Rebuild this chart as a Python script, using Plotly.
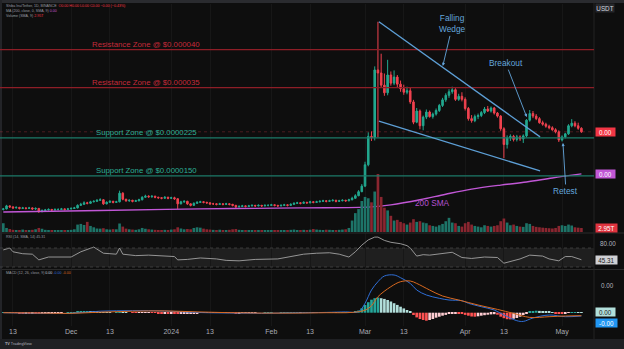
import numpy as np
import pandas as pd
import plotly.graph_objects as go

# ---------------- DATA (prices in micro-USDT, volume in trillions) ----------------
dates = pd.date_range('2023-11-10', periods=180, freq='D')

closes = [7.9, 8.5, 8.3, 8.1, 8.2, 8.0, 8.1, 8.0, 8.1, 7.9,
          8.0, 7.4, 7.6, 7.7, 7.8, 7.7, 7.8, 7.8, 7.9, 7.8,
          7.9, 8.0, 8.1, 8.6, 8.8, 9.1, 9.0, 9.3, 9.4, 9.6,
          9.7, 8.9, 9.2, 9.4, 9.2, 9.3, 11.0, 9.8, 9.5, 9.6,
          9.4, 9.5, 9.7, 10.2, 10.4, 10.3, 10.4, 10.2, 10.1, 10.0,
          10.2, 10.0, 10.1, 9.9, 8.9, 9.3, 9.4, 8.9, 8.6, 9.0,
          9.2, 9.3, 9.2, 9.1, 8.9, 8.9, 8.8, 8.9, 8.8, 8.9,
          8.8, 8.6, 8.3, 8.4, 8.5, 8.4, 8.5, 8.6, 8.5, 8.6,
          8.5, 8.6, 8.6, 8.7, 8.6, 8.5, 8.6, 8.7, 8.6, 8.8,
          9.0, 9.1, 9.0, 9.2, 9.1, 9.3, 9.2, 9.3, 9.4, 9.5,
          9.4, 9.5, 9.6, 9.4, 9.5, 9.6, 9.5, 9.7, 10.0, 10.5,
          11.3, 12.4, 16.6, 22.2, 22.0,
          35.3, 34.7, 32.3, 30.8, 34.3, 32.7, 33.9, 32.5, 31.6, 30.9,
          31.2, 29.0, 25.0, 27.2, 24.3, 26.0, 27.0, 26.1, 26.6, 27.3,
          28.3, 29.4, 30.3, 31.0, 31.4, 29.5, 30.1, 29.5, 27.7, 25.7,
          25.3, 26.1, 26.3, 26.9, 27.6, 27.2, 27.8, 26.8, 26.2, 23.7,
          20.6, 21.9, 22.2, 21.6, 22.1, 21.7, 22.3, 25.4, 26.7, 26.2,
          25.7, 24.9, 24.6, 24.2, 23.9, 23.5, 23.1, 21.5, 22.1, 22.7,
          24.3, 24.8, 24.3, 23.8, 23.1]

highs = [8.1, 8.7, 8.6, 8.4, 8.4, 8.3, 8.3, 8.2, 8.3, 8.2,
         8.2, 8.1, 7.8, 7.9, 8.0, 7.9, 8.0, 8.0, 8.1, 8.0,
         8.1, 8.2, 8.3, 8.8, 9.1, 9.4, 9.3, 9.5, 9.6, 9.8,
         10.0, 9.8, 9.4, 9.6, 9.5, 9.5, 11.5, 11.2, 9.9, 9.8,
         9.7, 9.7, 9.9, 10.4, 10.7, 10.6, 10.6, 10.5, 10.3, 10.2,
         10.4, 10.3, 10.3, 10.3, 10.0, 9.5, 9.6, 9.5, 9.0, 9.2,
         9.4, 9.5, 9.4, 9.3, 9.2, 9.1, 9.0, 9.1, 9.0, 9.1,
         9.0, 8.9, 8.7, 8.6, 8.7, 8.6, 8.7, 8.8, 8.7, 8.8,
         8.7, 8.8, 8.8, 8.9, 8.8, 8.7, 8.8, 8.9, 8.8, 9.0,
         9.2, 9.3, 9.2, 9.4, 9.3, 9.5, 9.4, 9.5, 9.6, 9.7,
         9.6, 9.7, 9.8, 9.7, 9.7, 9.8, 9.7, 9.9, 10.3, 10.8,
         11.6, 12.8, 17.2, 23.0, 23.2,
         36.0, 44.8, 38.5, 34.6, 37.3, 35.0, 35.2, 34.3, 33.2, 32.4,
         32.0, 31.8, 29.4, 27.8, 27.5, 26.3, 27.5, 27.3, 26.9, 27.7,
         28.6, 29.8, 30.7, 31.5, 32.0, 31.7, 30.6, 30.9, 29.9, 28.0,
         26.4, 26.5, 26.7, 27.2, 28.0, 28.2, 28.1, 28.0, 27.0, 26.4,
         24.0, 22.4, 22.6, 22.5, 22.5, 22.4, 22.6, 25.6, 27.4, 27.2,
         26.6, 26.0, 25.3, 24.9, 24.5, 24.2, 23.8, 23.4, 22.4, 22.9,
         24.6, 25.6, 25.2, 24.9, 24.0]

lows = [7.6, 7.8, 8.1, 7.9, 8.0, 7.8, 7.9, 7.8, 7.9, 7.7,
        7.7, 7.1, 7.2, 7.5, 7.6, 7.5, 7.6, 7.6, 7.7, 7.6,
        7.7, 7.8, 7.9, 8.0, 8.5, 8.7, 8.8, 8.9, 9.2, 9.3,
        9.5, 8.7, 8.8, 9.1, 9.0, 9.1, 9.2, 9.6, 9.3, 9.3,
        9.2, 9.3, 9.4, 9.6, 10.1, 10.1, 10.1, 10.0, 9.9, 9.8,
        9.9, 9.8, 9.9, 9.7, 7.9, 8.8, 9.1, 8.7, 8.4, 8.5,
        8.9, 9.1, 9.0, 8.9, 8.7, 8.7, 8.6, 8.7, 8.6, 8.7,
        8.6, 8.4, 8.1, 8.2, 8.3, 8.2, 8.3, 8.4, 8.3, 8.4,
        8.3, 8.4, 8.4, 8.5, 8.4, 8.3, 8.4, 8.5, 8.4, 8.5,
        8.7, 8.9, 8.8, 8.9, 8.9, 9.0, 9.0, 9.1, 9.2, 9.3,
        9.2, 9.3, 9.4, 9.2, 9.3, 9.4, 9.3, 9.4, 9.6, 9.9,
        10.4, 11.2, 12.2, 16.3, 21.3,
        21.4, 22.0, 31.8, 30.2, 30.3, 32.2, 32.3, 31.9, 31.0, 30.4,
        30.5, 28.6, 24.6, 24.8, 23.6, 23.4, 25.6, 25.9, 25.7, 26.3,
        27.0, 28.0, 29.0, 29.8, 30.6, 29.2, 29.2, 29.1, 27.3, 25.3,
        24.9, 25.0, 25.6, 26.0, 26.6, 27.0, 26.9, 26.5, 25.9, 23.3,
        17.9, 19.8, 21.3, 21.2, 21.2, 21.3, 20.9, 22.0, 25.1, 25.8,
        25.4, 24.7, 24.3, 23.9, 23.6, 23.3, 22.8, 21.1, 21.2, 21.8,
        22.5, 24.0, 24.0, 23.5, 22.9]

first_open = 7.8

volumes = [6.5, 3.0, 2.2, 1.6, 1.5, 1.4, 1.8, 1.5, 1.3, 1.6,
           2.0, 3.0, 2.4, 1.6, 1.4, 1.2, 1.3, 1.5, 1.2, 1.4,
           1.3, 1.6, 2.0, 5.5, 6.0, 5.2, 7.5, 4.5, 3.5, 2.6,
           2.5, 2.8, 2.0, 1.8, 2.1, 2.0, 6.3, 4.0, 2.5, 2.0,
           1.8, 1.6, 2.0, 3.0, 2.4, 2.0, 1.8, 1.6, 1.5, 1.4,
           1.6, 1.5, 1.8, 2.0, 3.5, 2.6, 2.0, 2.2, 2.0, 3.0,
           3.5, 3.2, 2.5, 2.0, 1.8, 1.6, 1.5, 1.7, 1.5, 1.4,
           1.6, 2.0, 2.2, 1.6, 1.2, 1.1, 1.0, 1.2, 1.1, 1.0,
           1.2, 1.1, 1.0, 1.2, 1.1, 1.3, 1.2, 1.1, 1.4, 1.6,
           1.8, 1.5, 1.4, 1.6, 1.5, 1.7, 2.2, 1.8, 1.6, 1.5,
           1.7, 1.6, 1.5, 1.4, 1.6, 1.8, 2.0, 3.0, 8.5, 14.0,
           17.0, 23.0, 26.0, 25.0, 22.0,
           30.0, 43.0, 26.0, 18.0, 16.0, 12.0, 8.5, 9.0, 7.5, 6.5,
           5.5, 7.0, 9.5, 7.5, 8.0, 7.0, 6.5, 5.0, 4.5, 4.0,
           5.0, 6.0, 8.0, 10.5, 7.0, 6.5, 4.5, 4.0, 6.5, 7.5,
           5.5, 4.5, 4.0, 3.5, 5.0, 4.5, 4.0, 4.5, 5.0, 8.0,
           10.0, 7.0, 5.0, 5.5, 4.5, 4.0, 3.8, 6.5, 6.0, 4.5,
           3.8, 3.5, 3.2, 3.0, 2.8, 2.6, 3.0, 4.5, 5.0, 4.5,
           5.5, 4.8, 3.5, 3.2, 2.95]

hist = [0.05, 0.04, 0.02, -0.01, -0.03, -0.04, -0.05, -0.05, -0.06, -0.05,
        -0.08, -0.10, -0.09, -0.07, -0.05, -0.04, -0.03, -0.02, -0.01, 0.0,
        0.02, 0.04, 0.05, 0.08, 0.10, 0.12, 0.13, 0.12, 0.10, 0.08,
        0.05, 0.03, 0.02, 0.01, 0.0, 0.02, 0.05, 0.04, 0.02, 0.0,
        -0.02, -0.03, -0.03, -0.02, -0.01, -0.01, -0.02, -0.03, -0.04, -0.05,
        -0.05, -0.06, -0.06, -0.07, -0.10, -0.10, -0.09, -0.08, -0.08, -0.06,
        -0.04, -0.03, -0.02, -0.02, -0.03, -0.03, -0.02, -0.02, -0.01, -0.01,
        -0.02, -0.03, -0.04, -0.04, -0.03, -0.02, -0.02, -0.01, -0.01, 0.0,
        0.0, 0.01, 0.01, 0.01, 0.0, 0.0, 0.01, 0.01, 0.02, 0.03,
        0.04, 0.04, 0.03, 0.03, 0.03, 0.03, 0.02, 0.02, 0.02, 0.02,
        0.02, 0.02, 0.02, 0.01, 0.02, 0.02, 0.03, 0.04, 0.07, 0.12,
        0.22, 0.44, 0.77, 1.05, 1.30, 1.45, 1.52, 1.45, 1.38, 1.27,
        1.12, 0.95, 0.78, 0.60, 0.43, 0.27, 0.10, -0.23, -0.47, -0.63,
        -0.73, -0.80, -0.73, -0.63, -0.50, -0.40, -0.30, -0.22, -0.13, -0.07,
        -0.05, -0.08, -0.13, -0.22, -0.30, -0.38, -0.40, -0.36, -0.30, -0.25,
        -0.20, -0.17, -0.15, -0.20, -0.40, -0.55, -0.65, -0.67, -0.60, -0.53,
        -0.40, -0.23, -0.07, 0.08, 0.15, 0.20, 0.18, 0.15, 0.12, 0.08,
        0.03, -0.05, -0.10, -0.12, -0.08, -0.03, 0.05, 0.07, 0.06, 0.05]

macd_idx = [0, 10, 20, 30, 40, 50, 60, 70, 80, 90, 100, 106, 110, 112, 114, 116, 118, 121,
            123, 126, 128, 131, 135, 138, 142, 144, 148, 152, 155, 159, 161, 164, 169, 174, 179]
macd_val = [0.0, -0.05, -0.08, 0.15, 0.20, 0.17, 0.02, -0.03, -0.06, -0.02, 0.03, 0.08, 0.10,
            0.94, 2.27, 3.10, 3.67, 3.77, 3.50, 2.93, 2.27, 1.77, 1.44, 1.27, 1.20, 0.94, 0.60,
            0.27, -0.23, -0.80, -0.87, -0.53, -0.23, -0.40, -0.33]

sig_idx = [0, 10, 20, 30, 40, 50, 60, 70, 80, 90, 100, 108, 112, 114, 116, 120, 123, 126,
           128, 132, 136, 141, 147, 153, 158, 163, 169, 174, 179]
sig_val = [0.0, -0.03, -0.07, 0.05, 0.15, 0.18, 0.08, 0.0, -0.04, -0.04, 0.0, 0.03, 0.25,
           0.70, 1.60, 2.60, 3.10, 3.17, 2.93, 2.27, 1.67, 1.27, 0.77, 0.33, -0.07, -0.47,
           -0.40, -0.33, -0.30]

rsi_idx = [0, 2, 3, 6, 9, 11, 14, 21, 24, 28, 31, 35, 36, 37, 41, 45, 53, 54, 57, 61, 66,
           69, 73, 78, 85, 89, 93, 97, 101, 104, 107, 109, 111, 113, 115, 116, 118, 120, 123,
           125, 126, 128, 130, 132, 136, 139, 142, 145, 149, 153, 155, 158, 160, 163, 167,
           169, 172, 174, 176, 179]
rsi_val = [66, 70, 62, 58, 57, 45, 51, 51, 62, 72, 59, 57, 70, 57, 54, 55, 52, 45, 46, 49, 47,
           44, 43, 46, 47, 52, 57, 59, 60, 57, 51, 62, 76, 87, 93, 93, 86, 82, 79,
           75, 70, 53, 56, 55, 59, 61, 50, 48, 51, 50, 38, 44, 47, 55, 53,
           47, 43, 52, 52, 45.31]

sma_idx = [0, 30, 61, 92, 114, 120, 129, 137, 145, 154, 162, 170, 179]
sma_val = [7.3, 7.6, 7.9, 8.1, 8.3, 8.7, 9.7, 10.8, 11.8, 12.6, 13.2, 14.0, 14.8]

level_prices = [39.3, 31.8, 21.9, 14.4]
level_labels = ['Resistance Zone @ $0.000040', 'Resistance Zone @ $0.000035',
                'Support Zone @ $0.0000225', 'Support Zone @ $0.0000150']
level_kind = ['res', 'res', 'sup', 'sup']

wedge_upper_t = ['2024-03-05 07:00', '2024-04-24 05:00']
wedge_upper_p = [44.8, 22.1]
wedge_lower_t = ['2024-03-05 07:00', '2024-04-24 05:00']
wedge_lower_p = [25.2, 15.4]

tick_dates = ['2023-11-13', '2023-12-01', '2023-12-13', '2024-01-01', '2024-01-13', '2024-02-01',
              '2024-02-13', '2024-03-01', '2024-03-13', '2024-04-01', '2024-04-13', '2024-05-01']
tick_text = ['13', 'Dec', '13', '2024', '13', 'Feb', '13', 'Mar', '13', 'Apr', '13', 'May']

# ---------------- derived ----------------
U = 1e-6
c = np.array(closes) * U
o = np.array([first_open] + closes[:-1]) * U
h = np.array(highs) * U
l = np.array(lows) * U
up = c >= o

GREEN = '#22a88f'
RED = '#f0424f'
BG = '#0e0e0e'
FONT = 'Liberation Sans, Arial, sans-serif'

vol_colors = ['#1d7468' if u else '#8a2630' for u in up]

hcol = []
prev = 0.0
for v in hist:
    if v >= 0:
        hcol.append('#26a69a' if v >= prev else '#b2dfdb')
    else:
        hcol.append('#ff5252' if v < prev else '#ffcdd2')
    prev = v

x_range = ['2023-11-08 23:30', '2024-05-10 21:30']

fig = go.Figure()

fig.add_trace(go.Candlestick(
    x=dates, open=o, high=h, low=l, close=c, xaxis='x', yaxis='y',
    increasing=dict(line=dict(color=GREEN, width=1), fillcolor=GREEN),
    decreasing=dict(line=dict(color=RED, width=1), fillcolor=RED),
    whiskerwidth=0, hoverinfo='skip', showlegend=False))

fig.add_trace(go.Bar(x=dates, y=volumes, marker=dict(color=vol_colors, line=dict(width=0)),
                     xaxis='x', yaxis='y2', hoverinfo='skip', showlegend=False))

fig.add_trace(go.Scatter(x=dates[sma_idx], y=np.array(sma_val) * U, mode='lines',
                         line=dict(color='#c157d6', width=1.4, shape='spline'),
                         xaxis='x', yaxis='y', hoverinfo='skip', showlegend=False))

fig.add_trace(go.Scatter(x=dates[rsi_idx], y=rsi_val, mode='lines',
                         line=dict(color='#a3a3a3', width=0.9),
                         xaxis='x2', yaxis='y3', hoverinfo='skip', showlegend=False))

fig.add_trace(go.Bar(x=dates, y=np.array(hist) * U, marker=dict(color=hcol, line=dict(width=0)),
                     xaxis='x3', yaxis='y4', hoverinfo='skip', showlegend=False))
fig.add_trace(go.Scatter(x=dates[macd_idx], y=np.array(macd_val) * U, mode='lines',
                         line=dict(color='#2f6fd8', width=1, shape='spline'),
                         xaxis='x3', yaxis='y4', hoverinfo='skip', showlegend=False))
fig.add_trace(go.Scatter(x=dates[sig_idx], y=np.array(sig_val) * U, mode='lines',
                         line=dict(color='#d9691f', width=1, shape='spline'),
                         xaxis='x3', yaxis='y4', hoverinfo='skip', showlegend=False))

W, H = 624, 349
PW = 594.0


def py(px):
    return 1 - px / H


shapes = []
# pane separators & frame
for yy in [233, 269.5]:
    shapes.append(dict(type='line', xref='paper', yref='paper', x0=0, x1=W / PW, y0=py(yy), y1=py(yy),
                       line=dict(color='#2a2a2a', width=1)))
shapes.append(dict(type='line', xref='paper', yref='paper', x0=1, x1=1, y0=py(339), y1=py(3),
                   line=dict(color='#222222', width=1)))
shapes.append(dict(type='rect', xref='paper', yref='paper', x0=0, x1=W / PW + 0.01, y0=py(3), y1=1.0,
                   fillcolor='#2a2b2f', line=dict(width=0), layer='above'))
shapes.append(dict(type='rect', xref='paper', yref='paper', x0=0, x1=W / PW + 0.01, y0=0, y1=py(339),
                   fillcolor='#1f2023', line=dict(width=0), layer='above'))
shapes.append(dict(type='rect', xref='paper', yref='paper', x0=0, x1=2 / PW, y0=py(339), y1=1.0,
                   fillcolor='#232428', line=dict(width=0), layer='above'))

# RSI band
shapes.append(dict(type='rect', xref='paper', yref='y3', x0=0, x1=1, y0=30, y1=70,
                   fillcolor='#1f1f1f', line=dict(width=0), layer='below'))
for lv in [30, 70]:
    shapes.append(dict(type='line', xref='paper', yref='y3', x0=0, x1=1, y0=lv, y1=lv,
                       line=dict(color='#4a4a4a', width=0.7, dash='dot')))

# last price line
shapes.append(dict(type='line', xref='paper', yref='y', x0=0, x1=1, y0=c[-1], y1=c[-1],
                   line=dict(color='rgba(240,66,79,0.35)', width=0.8, dash='dot')))

# horizontal zones
for p, kind in zip(level_prices, level_kind):
    col = '#8e1e27' if kind == 'res' else '#1c7a68'
    shapes.append(dict(type='line', xref='paper', yref='y', x0=0, x1=1, y0=p * U, y1=p * U,
                       line=dict(color=col, width=1.2)))

# wedge
for tt, pp in [(wedge_upper_t, wedge_upper_p), (wedge_lower_t, wedge_lower_p)]:
    shapes.append(dict(type='line', xref='x', yref='y', x0=tt[0], x1=tt[1], y0=pp[0] * U, y1=pp[1] * U,
                       line=dict(color='#5d9fd6', width=1.3)))

ann = []
for p, lab, kind in zip(level_prices, level_labels, level_kind):
    col = '#c52a3a' if kind == 'res' else '#2cae96'
    ann.append(dict(xref='paper', yref='y', x=146 / PW, y=p * U, text=lab, showarrow=False,
                    yanchor='bottom', xanchor='center', yshift=-1,
                    font=dict(color=col, size=7.8, family=FONT)))

BLUE_T = '#64a6dc'
ann.append(dict(xref='x', yref='y', x='2024-03-25 02:00', y=36.1 * U, ax=10, ay=-42,
                text='Falling<br>Wedge', showarrow=True, arrowhead=2, arrowsize=0.7, arrowwidth=0.9,
                arrowcolor=BLUE_T, standoff=0, font=dict(color=BLUE_T, size=8.3, family=FONT)))
ann.append(dict(xref='x', yref='y', x='2024-04-20 02:00', y=26.0 * U, ax=-21, ay=-54,
                text='Breakout', showarrow=True, arrowhead=2, arrowsize=0.7, arrowwidth=0.9,
                arrowcolor=BLUE_T, standoff=0, font=dict(color=BLUE_T, size=8.3, family=FONT)))
ann.append(dict(xref='x', yref='y', x='2024-05-01 07:00', y=20.9 * U, ax=3, ay=48,
                text='Retest', showarrow=True, arrowhead=2, arrowsize=0.7, arrowwidth=0.9,
                arrowcolor=BLUE_T, standoff=0, font=dict(color=BLUE_T, size=8.3, family=FONT)))
ann.append(dict(xref='x', yref='y', x='2024-03-22', y=9.1 * U, text='200 SMA', showarrow=False,
                font=dict(color='#b452cf', size=8.3, family=FONT)))

# right scale labels
def badge(yref, yv, text, bg, fc, yshift=0, w=19):
    return dict(xref='paper', yref=yref, x=1.0, y=yv, text=text, showarrow=False, xanchor='left',
                yanchor='middle', xshift=0.5, yshift=yshift, bgcolor=bg, borderpad=0, width=w, height=8,
                align='center', font=dict(color=fc, size=6.3, family=FONT))

ann.append(badge('paper', py(8.5), 'USDT', '#26272b', '#d1d4dc', w=18))
ann.append(badge('y', c[-1], '0.00', '#f23645', '#ffffff'))
ann.append(badge('y', sma_val[-1] * U, '0.00', '#c157d6', '#ffffff'))
ann.append(badge('y2', volumes[-1], '2.95T', '#e0343f', '#ffffff', w=21))
ann.append(dict(xref='paper', yref='y3', x=1.0, y=80, text='80.00', showarrow=False, xanchor='left',
                xshift=4, font=dict(color='#b2b5be', size=6.3, family=FONT)))
ann.append(badge('y3', rsi_val[-1], '45.31', '#cfd0d4', '#1a1a1a', w=21))
ann.append(dict(xref='paper', yref='y4', x=1.0, y=2.77 * U, text='0.00', showarrow=False, xanchor='left',
                xshift=5, font=dict(color='#b2b5be', size=6.3, family=FONT)))
ann.append(badge('y4', hist[-1] * U, '0.00', '#b2dfdb', '#1a1a1a', yshift=0))
ann.append(badge('y4', macd_val[-1] * U, '-0.00', '#2196f3', '#ffffff', yshift=-7, w=21))

# legends (tiny)
LG = '#9a9da5'
def lgd(ypx, text):
    return dict(xref='paper', yref='paper', x=4 / PW, y=py(ypx), text=text, showarrow=False,
                xanchor='left', yanchor='middle', font=dict(color=LG, size=3.6, family=FONT))

ann.append(lgd(5.7, 'Shiba Inu/Tether, 1D, BINANCE  <span style="color:#f23645">O0.00 H0.00 L0.00 C0.00 −0.00 (−0.43%)</span>'))
ann.append(lgd(10.7, 'MA (200, close, 0, SMA, 9) <span style="color:#c157d6">0.00</span>'))
ann.append(lgd(15.7, 'Volume (SMA, 9) <span style="color:#f23645">2.95T</span>'))
ann.append(lgd(237, 'RSI (14, SMA, 14) 45.31'))
ann.append(lgd(273, 'MACD (12, 26, close, 9) <span style="color:#d1d4dc">0.00</span> '
                    '<span style="color:#2f6fd8">-0.00</span> <span style="color:#d9691f">-0.00</span>'))
ann.append(dict(xref='paper', yref='paper', x=3 / PW, y=py(344), text='<b>TV</b> TradingView', showarrow=False,
                xanchor='left', yanchor='middle', font=dict(color='#b0b3bb', size=3.8, family=FONT)))

xcommon = dict(range=x_range, type='date', showgrid=True, gridcolor='#171717', gridwidth=1,
               tickvals=tick_dates, zeroline=False, showline=False, ticks='', fixedrange=True)

fig.update_layout(
    width=W, height=H, margin=dict(l=0, r=30, t=0, b=0),
    paper_bgcolor=BG, plot_bgcolor=BG, showlegend=False, bargap=0.18,
    xaxis=dict(**xcommon, anchor='y', showticklabels=False, rangeslider=dict(visible=False)),
    xaxis2=dict(**xcommon, anchor='y3', showticklabels=False, matches='x'),
    xaxis3=dict(**xcommon, anchor='y4', showticklabels=True, ticktext=tick_text, matches='x',
                tickfont=dict(color='#a9acb4', size=7, family=FONT)),
    yaxis=dict(domain=[py(232), py(4)], range=[3.35 * U, 48.3 * U], showticklabels=False,
               showgrid=False, zeroline=False),
    yaxis2=dict(overlaying='y', range=[0, 169], showticklabels=False, showgrid=False, zeroline=False),
    yaxis3=dict(domain=[py(269), py(233)], range=[25.8, 101.6], showticklabels=False,
                showgrid=False, zeroline=False),
    yaxis4=dict(domain=[py(326), py(270)], range=[-1.33 * U, 4.27 * U], showticklabels=False,
                showgrid=False, zeroline=False),
    shapes=shapes, annotations=ann,
)

fig.write_html('out.html')
